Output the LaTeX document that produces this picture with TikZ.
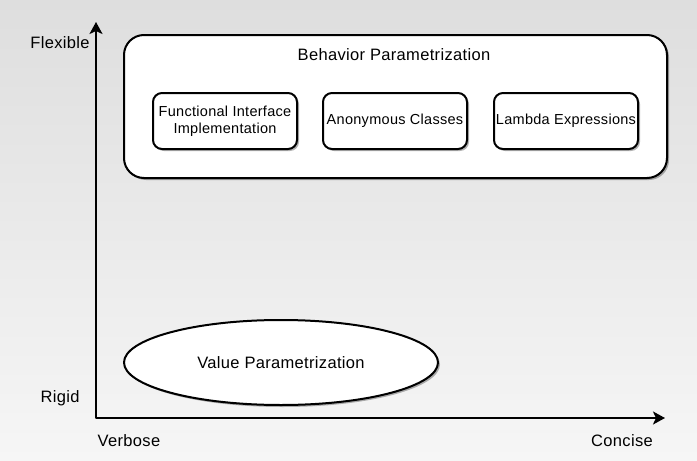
\documentclass[tikz,border=0pt]{standalone}
\usepackage{fontspec}
\setmainfont[LetterSpace=2]{Liberation Sans}
\usetikzlibrary{arrows.meta,shapes.geometric,shadows}
\definecolor{bgtop}{RGB}{222,222,222}
\definecolor{bgbot}{RGB}{246,246,246}
\tikzset{
  shade box/.style={drop shadow={shadow xshift=2pt,shadow yshift=-2pt,opacity=.3,fill=black}},
  group/.style={draw,line width=2pt,fill=white,rounded corners=20pt,minimum width=543pt,minimum height=143pt,inner sep=0pt,shade box},
  approach/.style={draw,line width=2pt,fill=white,rounded corners=9pt,minimum width=144pt,minimum height=56pt,inner sep=0pt,align=center,font=\fontsize{14.5}{17}\selectfont,shade box},
  value/.style={draw,line width=2pt,fill=white,ellipse,minimum width=314pt,minimum height=85pt,inner sep=0pt,shade box},
  axis/.style={line width=2pt,<->}
}
\begin{document}
\begin{tikzpicture}[line join=round,line cap=round,>={Stealth[length=12pt,width=13pt,inset=3pt]},font=\fontsize{16.5}{19}\selectfont,x=1pt,y=-1pt]
\shade[top color=bgtop,bottom color=bgbot] (0,0) rectangle (697,461);
\useasboundingbox (0,0) rectangle (697,461);
\coordinate (O) at (96,418);
\coordinate (Y) at (96,22);
\coordinate (X) at (665,418);
\draw[axis] (Y) -- (O) -- (X);
\node (flexible) at (60,43) {Flexible};
\node (rigid) at (60,398) {Rigid};
\node (verbose) at (129,441) {Verbose};
\node (concise) at (622,441) {Concise};
\node[group] (behavior) at (395.5,106.5) {};
\node (title) at (394,55) {Behavior Parametrization};
\node[approach] (functional) at (225,121) {Functional Interface\\Implementation};
\node[approach] (anonymous) at (395,121) {Anonymous Classes};
\node[approach] (lambda) at (566,121) {Lambda Expressions};
\node[value] (valuepar) at (281,362.5) {Value Parametrization};
\end{tikzpicture}
\end{document}
